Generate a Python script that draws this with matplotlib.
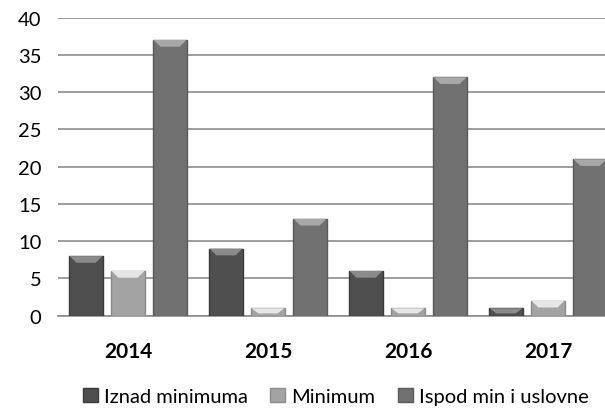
import numpy as np
import matplotlib.pyplot as plt
from matplotlib.patches import Patch, Polygon

years = ['2014', '2015', '2016', '2017']
series = ['Iznad minimuma', 'Minimum', 'Ispod min i uslovne']
iznad = [8, 9, 6, 1]
minimum = [6, 1, 1, 2]
ispod = [37, 13, 32, 21]

colors = ['#4f4f4f', '#a3a3a3', '#717171']
edges = ['#3a3a3a', '#8a8a8a', '#5a5a5a']
tops = ['#8a8a8a', '#e6e6e6', '#a8a8a8']

plt.rcParams['font.family'] = ['Lato', 'DejaVu Sans']

fig = plt.figure(figsize=(6.05, 4.14), dpi=100)
# right edge of the plot area runs past the picture, like the original
ax = fig.add_axes([0.0959, 0.235, 0.9256, 0.72])

x = np.arange(len(years))
w = 0.236
for i, vals in enumerate([iznad, minimum, ispod]):
    bars = ax.bar(x + (i - 1) * 0.3, vals, w, color=colors[i], edgecolor=edges[i],
                  linewidth=1, zorder=3, label=series[i])
    # light bevel on top of each bar
    for b in bars:
        bx, bw, bh = b.get_x(), b.get_width(), b.get_height()
        dy = min(0.9, bh * 0.7)
        dx = 0.05
        ax.add_patch(Polygon([(bx, bh), (bx + bw, bh), (bx + bw - dx, bh - dy),
                              (bx + dx, bh - dy)], closed=True,
                             facecolor=tops[i], edgecolor='none', zorder=4))

ax.set_xlim(-0.5, 3.5)
ax.set_ylim(0, 40)
ax.set_yticks(range(0, 41, 5))
ax.yaxis.grid(True, color='#8c8c8c', linewidth=1.2)
ax.set_axisbelow(True)
for s in ['top', 'right', 'left']:
    ax.spines[s].set_visible(False)
ax.spines['bottom'].set_color('#8c8c8c')
ax.spines['bottom'].set_linewidth(1.2)
ax.tick_params(axis='both', length=0, labelsize=14.5)
ax.tick_params(axis='y', pad=12)
ax.tick_params(axis='x', pad=18)
ax.set_xticks(x)
ax.set_xticklabels(years, fontweight='bold', fontsize=15)

handles = [Patch(facecolor=colors[i], edgecolor=edges[i], label=series[i]) for i in range(3)]
fig.legend(handles=handles, loc='center', bbox_to_anchor=(0.555, 0.04), ncol=3,
           frameon=False, fontsize=14.5, handlelength=0.75, handleheight=0.75,
           handletextpad=0.3, columnspacing=1.1, borderaxespad=0)

fig.savefig('out.png', dpi=100)
